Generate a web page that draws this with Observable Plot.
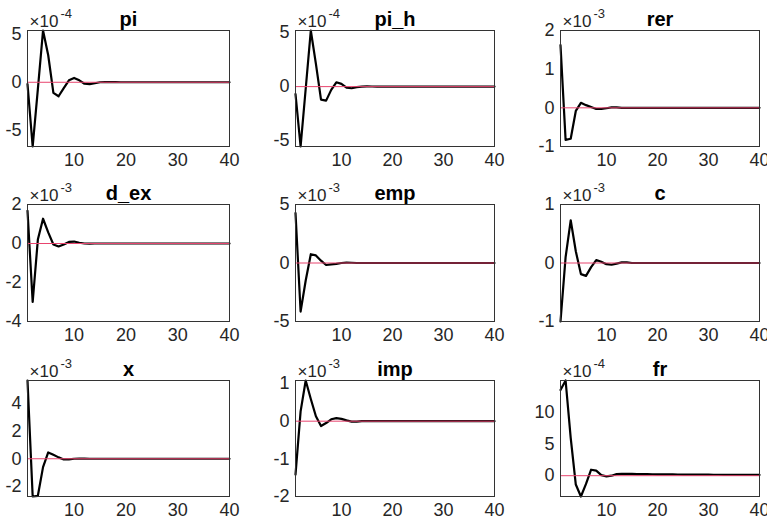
<!DOCTYPE html>
<html>
<head>
<meta charset="utf-8">
<script src="https://cdn.jsdelivr.net/npm/d3@7"></script>
<script src="https://cdn.jsdelivr.net/npm/@observablehq/plot@0.6"></script>
<style>
  body { margin: 0; background: #fff; }
  #grid { position: relative; width: 767px; height: 521px; overflow: hidden;
          font-family: "Liberation Sans", Arial, Helvetica, sans-serif; background: #fff; }
  #grid > svg { position: absolute; }
</style>
</head>
<body>
<div id="grid"></div>
<script>
// Impulse responses over 40 periods, in units of 10^exponent
const names = ["pi", "pi_h", "rer", "d_ex", "emp", "c", "x", "imp", "fr"];
const exponents = [-4, -4, -3, -3, -3, -3, -3, -3, -4];

const pi   = [-0.2, -6.65, -0.7, 5.36, 2.8, -1.1, -1.45, -0.6, 0.2, 0.45, 0.2, -0.15, -0.2, -0.1, 0, 0.02, 0.02, 0.01, 0, 0, 0, 0, 0, 0, 0, 0, 0, 0, 0, 0, 0, 0, 0, 0, 0, 0, 0, 0, 0, 0];
const pi_h = [-0.7, -5.55, -0.2, 5.2, 2.1, -1.2, -1.3, -0.3, 0.4, 0.25, -0.1, -0.15, -0.05, 0, 0.02, 0.01, 0, 0, 0, 0, 0, 0, 0, 0, 0, 0, 0, 0, 0, 0, 0, 0, 0, 0, 0, 0, 0, 0, 0, 0];
const rer  = [1.62, -0.83, -0.8, -0.08, 0.13, 0.07, 0.02, -0.03, -0.03, -0.01, 0.01, 0.01, 0, 0, 0, 0, 0, 0, 0, 0, 0, 0, 0, 0, 0, 0, 0, 0, 0, 0, 0, 0, 0, 0, 0, 0, 0, 0, 0, 0];
const d_ex = [1.68, -3.0, 0.2, 1.27, 0.57, -0.05, -0.15, -0.05, 0.08, 0.1, 0.04, 0, -0.01, 0, 0, 0, 0, 0, 0, 0, 0, 0, 0, 0, 0, 0, 0, 0, 0, 0, 0, 0, 0, 0, 0, 0, 0, 0, 0, 0];
const emp  = [4.26, -4.15, -1.5, 0.75, 0.65, 0.2, -0.17, -0.12, -0.08, 0, 0.03, 0.02, 0, 0, 0, 0, 0, 0, 0, 0, 0, 0, 0, 0, 0, 0, 0, 0, 0, 0, 0, 0, 0, 0, 0, 0, 0, 0, 0, 0];
const c    = [-1.0, 0.1, 0.73, 0.2, -0.19, -0.22, -0.07, 0.05, 0.02, -0.02, -0.03, -0.01, 0.01, 0.01, 0, 0, 0, 0, 0, 0, 0, 0, 0, 0, 0, 0, 0, 0, 0, 0, 0, 0, 0, 0, 0, 0, 0, 0, 0, 0];
const x    = [5.6, -2.7, -2.65, -0.6, 0.45, 0.28, 0.1, -0.05, -0.05, 0, 0.02, 0.01, 0, 0, 0, 0, 0, 0, 0, 0, 0, 0, 0, 0, 0, 0, 0, 0, 0, 0, 0, 0, 0, 0, 0, 0, 0, 0, 0, 0];
const imp  = [-1.42, 0.26, 1.08, 0.59, 0.13, -0.13, -0.05, 0.05, 0.08, 0.06, 0.02, -0.01, -0.01, 0, 0, 0, 0, 0, 0, 0, 0, 0, 0, 0, 0, 0, 0, 0, 0, 0, 0, 0, 0, 0, 0, 0, 0, 0, 0, 0];
const fr   = [13.6, 15.1, 6.0, -1.4, -3.3, -1.3, 0.95, 0.8, 0.1, -0.1, 0, 0.25, 0.3, 0.3, 0.28, 0.26, 0.25, 0.24, 0.23, 0.22, 0.21, 0.2, 0.2, 0.19, 0.18, 0.18, 0.17, 0.17, 0.16, 0.16, 0.15, 0.15, 0.14, 0.14, 0.13, 0.13, 0.13, 0.12, 0.12, 0.12];
const series = [pi, pi_h, rer, d_ex, emp, c, x, imp, fr];

const yDomains = [[-6.65, 5.36], [-5.55, 5.2], [-1, 2], [-4, 2], [-5, 5], [-1, 1], [-2.7, 5.6], [-2, 1.08], [-3.3, 15.1]];
const yTicks = [[-5, 0, 5], [-5, 0, 5], [-1, 0, 1, 2], [-4, -2, 0, 2], [-5, 0, 5], [-1, 0, 1], [-2, 0, 2, 4], [-2, -1, 0, 1], [0, 5, 10]];
const xDomain = [1, 40];
const xTicks = [10, 20, 30, 40];

// Grid layout of the axes boxes
const colLeft = [27, 295, 560], colWidth = [202, 199, 199];
const rowTop = [30, 204, 380], rowHeight = [116, 117, 116];
const mL = 40, mR = 12, mT = 30, mB = 28;

const grid = document.getElementById("grid");

names.forEach((name, k) => {
  const col = k % 3, row = Math.floor(k / 3);
  const values = series[k];
  const chart = Plot.plot({
    width: colWidth[col] + mL + mR,
    height: rowHeight[row] + mT + mB,
    marginLeft: mL, marginRight: mR, marginTop: mT, marginBottom: mB,
    style: {fontFamily: "'Liberation Sans', Arial, sans-serif", fontSize: "18px", color: "#262626", background: "transparent", overflow: "visible"},
    x: {domain: xDomain, ticks: xTicks, tickSize: 0, tickPadding: 7, tickFormat: d => String(d), label: null},
    y: {domain: yDomains[k], ticks: yTicks[k], tickSize: 0, tickPadding: 6, tickFormat: d => String(d), label: null},
    marks: [
      Plot.line(values, {x: (d, i) => i + 1, y: d => d, stroke: "#000", strokeWidth: 2.2}),
      Plot.ruleY([0], {stroke: "#e8446e", strokeWidth: 1}),
      Plot.frame({stroke: "#333", strokeWidth: 1}),
      Plot.text([name], {frameAnchor: "top", lineAnchor: "bottom", dy: -5, fontWeight: "bold", fontSize: 20, fill: "#000"}),
      Plot.text(["×10"], {frameAnchor: "top-left", textAnchor: "start", lineAnchor: "bottom", dx: 2, dy: -4, fontSize: 17, fill: "#262626"}),
      Plot.text([String(exponents[k])], {frameAnchor: "top-left", textAnchor: "start", lineAnchor: "bottom", dx: 33, dy: -13, fontSize: 13, fill: "#262626"})
    ]
  });
  chart.style.left = (colLeft[col] - mL) + "px";
  chart.style.top = (rowTop[row] - mT) + "px";
  grid.appendChild(chart);
});
</script>
</body>
</html>
